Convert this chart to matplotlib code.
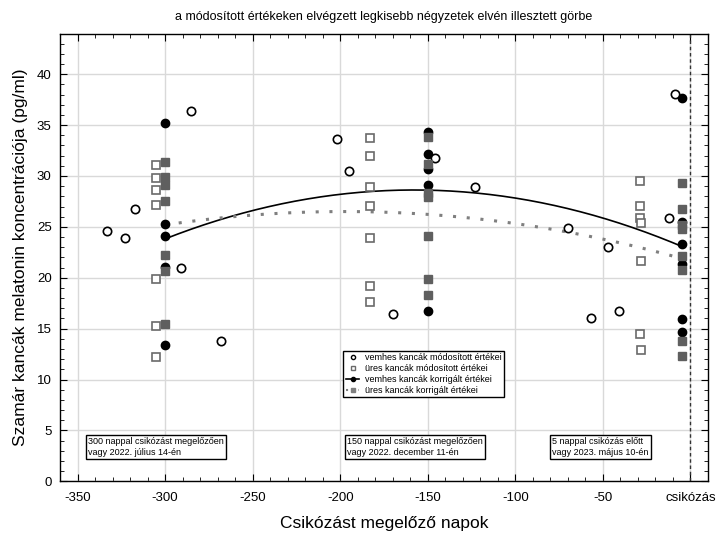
import numpy as np
import matplotlib
matplotlib.use("Agg")
from matplotlib import pyplot as plt
from matplotlib.ticker import MultipleLocator, FixedLocator

plt.rcParams['font.family'] = ['Liberation Sans', 'DejaVu Sans']

# vemhes kancak modositott ertekei (open circles)
vemhes_mod_x = [-333, -323, -317, -291, -285, -268,
                -202, -195, -170, -146, -123,
                -70, -57, -47, -41, -12, -9]
vemhes_mod_y = [24.6, 23.9, 26.8, 21.0, 36.4, 13.8,
                33.6, 30.45, 16.4, 31.8, 28.9,
                24.85, 16.0, 23.0, 16.75, 25.85, 38.1]

# ures kancak modositott ertekei (open squares)
ures_mod_x = [-305] * 7 + [-183] * 7 + [-29, -29, -29, -28, -28, -29, -28]
ures_mod_y = [31.05, 29.8, 28.6, 27.15, 19.9, 15.25, 12.2,
              33.7, 31.95, 28.9, 27.05, 23.95, 19.2, 17.6,
              29.55, 27.05, 25.9, 25.35, 21.65, 14.5, 12.9]

# vemhes kancak korrigalt ertekei (filled circles)
vemhes_korr_x = [-300] * 5 + [-150] * 5 + [-5] * 6
vemhes_korr_y = [35.25, 25.3, 24.1, 21.1, 13.35,
                 34.35, 32.15, 30.7, 29.15, 16.7,
                 37.7, 25.45, 23.35, 21.4, 15.95, 14.65]

# ures kancak korrigalt ertekei (filled squares)
ures_korr_x = [-300] * 7 + [-150] * 7 + [-5] * 8
ures_korr_y = [31.4, 29.9, 29.1, 27.5, 22.25, 20.7, 15.5,
               33.85, 31.2, 28.3, 27.9, 24.1, 19.9, 18.35,
               29.35, 26.8, 25.2, 24.8, 22.1, 20.8, 13.8, 12.3]

x_ticks = [-350, -300, -250, -200, -150, -100, -50, 0]
x_tick_labels = ['-350', '-300', '-250', '-200', '-150', '-100', '-50', 'csikózás']

box_x = [-344, -196, -79]
box_texts = ['300 nappal csikózást megelőzően\nvagy 2022. július 14-én',
             '150 nappal csikózást megelőzően\nvagy 2022. december 11-én',
             '5 nappal csikózás előtt\nvagy 2023. május 10-én']

fig = plt.figure(figsize=(7.22, 5.37), dpi=100)
ax = fig.add_axes([0.0831, 0.1037, 0.8975, 0.8339])

ax.grid(True, color='#d9d9d9', linewidth=1.0, zorder=0)
ax.set_axisbelow(True)

# fitted curves (least squares, 2nd degree)
xs = np.linspace(-300, -5, 200)
p_v = np.polyfit(vemhes_korr_x, vemhes_korr_y, 2)
p_u = np.polyfit(ures_korr_x, ures_korr_y, 2)
ax.plot(xs, np.polyval(p_v, xs), color='black', lw=1.2, zorder=2)
ax.plot(xs, np.polyval(p_u, xs), color='#7f7f7f', lw=2.2,
        linestyle=(0, (1, 3.5)), zorder=2)

ax.plot(vemhes_korr_x, vemhes_korr_y, 'o', color='black', ms=6, zorder=3)
ax.plot(ures_korr_x, ures_korr_y, 's', color='#5f5f5f', ms=6, zorder=4)
ax.plot(ures_mod_x, ures_mod_y, 's', mfc='white', mec='#6a6a6a', mew=1.2,
        ms=6, zorder=3)
ax.plot(vemhes_mod_x, vemhes_mod_y, 'o', mfc='white', mec='black', mew=1.2,
        ms=6, zorder=3)

ax.axvline(0, color='#333333', lw=1.0, linestyle=(0, (2.5, 2)), zorder=2)

ax.set_xlim(-360, 10)
ax.set_ylim(0, 44)
ax.xaxis.set_major_locator(FixedLocator(x_ticks))
ax.set_xticklabels(x_tick_labels)
ax.xaxis.set_minor_locator(MultipleLocator(10))
ax.yaxis.set_major_locator(MultipleLocator(5))
ax.yaxis.set_minor_locator(MultipleLocator(1))
ax.tick_params(which='both', direction='in', top=True, right=True,
               labelsize=9.5)
ax.tick_params(axis='x', pad=8)
ax.tick_params(axis='y', pad=6)
ax.tick_params(which='major', length=5)
ax.tick_params(which='minor', length=3)
for s in ax.spines.values():
    s.set_linewidth(1.0)

ax.set_xlabel('Csikózást megelőző napok', fontsize=12.5, labelpad=8)
ax.set_ylabel('Szamár kancák melatonin koncentrációja (pg/ml)', fontsize=12.5,
              labelpad=6)
ax.set_title('a módosított értékeken elvégzett legkisebb négyzetek elvén illesztett görbe',
             fontsize=9, pad=10)

for bx, txt in zip(box_x, box_texts):
    ax.text(bx, 2.4, txt, fontsize=6.5, ha='left', va='bottom', zorder=5,
            bbox=dict(boxstyle='square,pad=0.25', fc='white', ec='black', lw=1.0))

leg_handles = [
    plt.Line2D([], [], marker='o', ls='none', mfc='white', mec='black', ms=3),
    plt.Line2D([], [], marker='s', ls='none', mfc='white', mec='#6a6a6a', ms=3),
    plt.Line2D([], [], marker='o', color='black', ms=3, lw=1.2),
    plt.Line2D([], [], marker='s', color='#7f7f7f', ms=3, lw=1.5, ls=(0, (1, 2))),
]
leg_labels = ['vemhes kancák módosított értékei', 'üres kancák módosított értékei',
              'vemhes kancák korrigált értékei', 'üres kancák korrigált értékei']
leg = ax.legend(leg_handles, leg_labels, loc='upper left',
                bbox_to_anchor=(0.437, 0.292), fontsize=6.5, frameon=True,
                fancybox=False, edgecolor='black', framealpha=1,
                handlelength=1.5, handletextpad=0.6, labelspacing=0.2,
                borderpad=0.3, borderaxespad=0)
leg.get_frame().set_linewidth(1.0)

fig.savefig('out.png', dpi=100)
